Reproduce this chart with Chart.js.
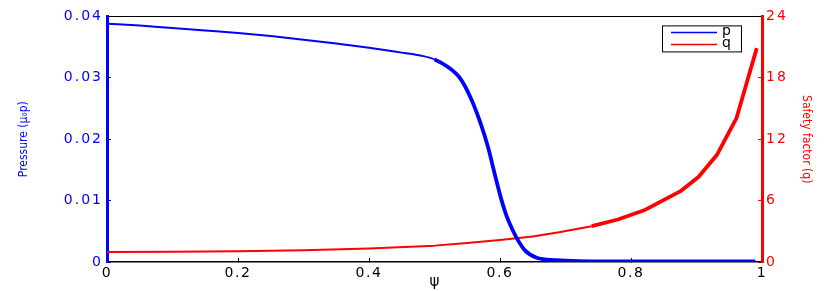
<!DOCTYPE html>
<html>
<head>
<meta charset="utf-8">
<script src="https://cdn.jsdelivr.net/npm/chart.js@4"></script>
<style>
  html, body { margin: 0; padding: 0; background: #fff; }
  #wrap { width: 830px; height: 291px; }
</style>
</head>
<body>
<div id="wrap"><canvas id="chart" width="830" height="291"></canvas></div>
<script>
const BLUE = '#0000ff';
const RED = '#ff0000';

// pressure profile p(psi)
const psiP = [0, 0.05, 0.1, 0.15, 0.2, 0.25, 0.3, 0.35, 0.4, 0.45, 0.48, 0.5, 0.52, 0.54, 0.555,
  0.57, 0.582, 0.592, 0.602, 0.61, 0.618, 0.626, 0.638, 0.656, 0.686, 0.72, 0.8, 0.9, 0.99];
const pressure = [0.0388, 0.0385, 0.0381, 0.0377, 0.0373, 0.0368, 0.0362, 0.0356, 0.0349, 0.0341, 0.0336,
  0.0330, 0.0318, 0.0298, 0.0268, 0.0227, 0.0186, 0.0143, 0.0102, 0.0075, 0.0055, 0.0038, 0.0019, 0.0007,
  0.0003, 0.00015, 0.0001, 0.0001, 0.0001];

// safety factor q(psi)
const psiQ = [0, 0.1, 0.2, 0.3, 0.4, 0.5, 0.55, 0.6, 0.65, 0.69, 0.74, 0.78, 0.82, 0.875, 0.903, 0.931, 0.961, 0.992];
const safety = [0.98, 1.0, 1.06, 1.16, 1.32, 1.6, 1.85, 2.15, 2.5, 2.9, 3.5, 4.15, 5.05, 6.9, 8.3, 10.45, 14.05, 20.9];

const xTicks = [0, 0.2, 0.4, 0.6, 0.8, 1];
const pTicks = [0, 0.01, 0.02, 0.03, 0.04];
const qTicks = [0, 6, 12, 18, 24];

const tickFont = { family: "'DejaVu Sans', sans-serif", size: 14 };
const narrow = "'Liberation Sans Narrow', 'DejaVu Sans Condensed', 'Liberation Sans', sans-serif";

// letter spacing per axis, the source labels are drawn wide
const spacing = { x: '1.5px', y: '2px', y1: '2px' };
const spacedLabels = {
  id: 'spacedLabels',
  afterLayout(chart) {
    Object.values(chart.scales).forEach((s) => {
      if (s._spaced) return;
      const orig = s.drawLabels;
      s.drawLabels = function (area) {
        const ctx = this.ctx;
        const prev = ctx.letterSpacing;
        ctx.letterSpacing = spacing[this.id] || '0px';
        orig.call(this, area);
        ctx.letterSpacing = prev;
      };
      s._spaced = true;
    });
  },
};

// boxed legend in the top right corner of the plot
const boxLegend = {
  id: 'boxLegend',
  afterDraw(chart) {
    const ctx = chart.ctx;
    const { right, top } = chart.chartArea;
    const x0 = right - 100, y0 = top + 9, w = 79, h = 26;
    ctx.save();
    ctx.fillStyle = '#fff';
    ctx.fillRect(x0, y0, w, h);
    ctx.strokeStyle = '#000';
    ctx.lineWidth = 1;
    ctx.strokeRect(x0 + 0.5, y0 + 0.5, w, h);
    ctx.font = "14px 'DejaVu Sans', sans-serif";
    ctx.textBaseline = 'middle';
    chart.data.datasets.forEach((ds, i) => {
      const y = y0 + 7 + i * 12;
      ctx.strokeStyle = ds.borderColor;
      ctx.lineWidth = 1.5;
      ctx.beginPath();
      ctx.moveTo(x0 + 9, y);
      ctx.lineTo(x0 + 55, y);
      ctx.stroke();
      ctx.fillStyle = '#000';
      ctx.fillText(ds.label, x0 + 60, y - 1);
    });
    ctx.restore();
  },
};

// line gets heavier past a point, like the source
const widthAfter = (cut) => (c) => ((c.p0.parsed.x + c.p1.parsed.x) / 2 < cut ? 2 : 3.8);

new Chart(document.getElementById('chart'), {
  type: 'line',
  data: {
    datasets: [
      {
        label: 'p',
        data: psiP.map((x, i) => ({ x, y: pressure[i] })),
        yAxisID: 'y',
        borderColor: BLUE,
        borderWidth: 2,
        borderJoinStyle: 'round',
        pointRadius: 0,
        cubicInterpolationMode: 'monotone',
        segment: { borderWidth: widthAfter(0.51) },
      },
      {
        label: 'q',
        data: psiQ.map((x, i) => ({ x, y: safety[i] })),
        yAxisID: 'y1',
        borderColor: RED,
        borderWidth: 2,
        borderJoinStyle: 'round',
        pointRadius: 0,
        tension: 0,
        segment: { borderWidth: widthAfter(0.76) },
      },
    ],
  },
  options: {
    responsive: false,
    animation: false,
    layout: { padding: 0 },
    plugins: { legend: { display: false }, tooltip: { enabled: false } },
    scales: {
      x: {
        type: 'linear',
        position: 'bottom',
        min: 0,
        max: 1,
        afterBuildTicks: (s) => { s.ticks = xTicks.map((v) => ({ value: v })); },
        afterFit: (s) => { s.height = 29; },
        grid: { drawOnChartArea: false, tickLength: -4, tickColor: '#000' },
        border: { color: '#000', width: 1.5 },
        ticks: {
          color: '#000', font: tickFont, padding: 7, maxRotation: 0, autoSkip: false,
          callback: (v) => (v === 0 || v === 1 ? String(v) : v.toFixed(1)),
        },
        title: {
          display: true, text: 'ψ', color: '#000',
          font: { family: "'DejaVu Sans', sans-serif", size: 15 },
          padding: { top: 0, bottom: 0 },
        },
      },
      xTop: {
        type: 'linear',
        position: 'top',
        min: 0,
        max: 1,
        afterFit: (s) => { s.height = 11; },
        grid: { drawOnChartArea: false, drawTicks: false },
        border: { color: '#000', width: 1 },
        ticks: { display: false },
      },
      y: {
        type: 'linear',
        position: 'left',
        min: 0,
        max: 0.04,
        afterBuildTicks: (s) => { s.ticks = pTicks.map((v) => ({ value: v })); },
        afterFit: (s) => { s.width = 107; },
        grid: { drawOnChartArea: false, tickLength: -4, tickColor: BLUE },
        border: { color: BLUE, width: 3 },
        ticks: {
          color: BLUE, font: tickFont, padding: 8,
          callback: (v) => (v === 0 ? '0' : v.toFixed(2)),
        },
        title: {
          display: true, text: 'Pressure (μ₀p)', color: BLUE,
          font: { family: narrow, size: 12 },
          padding: { top: 17, bottom: 0 },
        },
      },
      y1: {
        type: 'linear',
        position: 'right',
        min: 0,
        max: 24,
        afterBuildTicks: (s) => { s.ticks = qTicks.map((v) => ({ value: v })); },
        afterFit: (s) => { s.width = 68; },
        grid: { drawOnChartArea: false, tickLength: -4, tickColor: RED },
        border: { color: RED, width: 3 },
        ticks: { color: RED, font: tickFont, padding: 8 },
        title: {
          display: true, text: 'Safety factor (q)', color: RED,
          font: { family: narrow, size: 12 },
          padding: { top: 17, bottom: 0 },
        },
      },
    },
  },
  plugins: [spacedLabels, boxLegend],
});
</script>
</body>
</html>
